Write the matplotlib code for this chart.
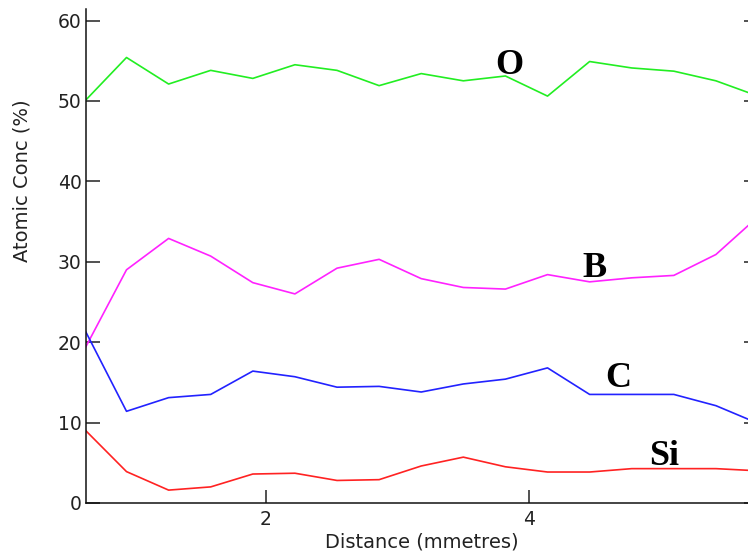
import matplotlib
matplotlib.use('Agg')
import matplotlib.pyplot as plt

# Dados
distance = [0.63, 0.94, 1.26, 1.58, 1.90, 2.22, 2.54, 2.86, 3.18,
            3.50, 3.82, 4.14, 4.46, 4.78, 5.10, 5.42, 5.74]

conc_o = [50.1, 55.4, 52.1, 53.8, 52.8, 54.5, 53.8, 51.9, 53.4,
          52.5, 53.1, 50.6, 54.9, 54.1, 53.7, 52.5, 50.6]
conc_b = [19.4, 29.0, 32.9, 30.7, 27.4, 26.0, 29.2, 30.3, 27.9,
          26.8, 26.6, 28.4, 27.5, 28.0, 28.3, 30.9, 35.6]
conc_c = [21.3, 11.4, 13.1, 13.5, 16.4, 15.7, 14.4, 14.5, 13.8,
          14.8, 15.4, 16.8, 13.5, 13.5, 13.5, 12.1, 9.9]
conc_si = [9.0, 3.9, 1.6, 2.0, 3.6, 3.7, 2.8, 2.9, 4.6,
           5.7, 4.5, 3.85, 3.85, 4.27, 4.27, 4.27, 4.0]

x_ticks = [2, 4]
y_ticks = [0, 10, 20, 30, 40, 50, 60]

# Figura
fig = plt.figure(figsize=(7.48, 5.54), dpi=100)
ax = fig.add_axes([0.1146, 0.0921, 0.8988, 0.8912])

ax.plot(distance, conc_o, color='#22ee22', lw=1.2)
ax.plot(distance, conc_b, color='#ff22ff', lw=1.2)
ax.plot(distance, conc_c, color='#2222ff', lw=1.2)
ax.plot(distance, conc_si, color='#ff2222', lw=1.2)

ax.set_xlim(distance[0], distance[-1])
ax.set_ylim(0, 61.4)
ax.set_xticks(x_ticks)
ax.set_yticks(y_ticks)
ax.set_xticklabels([str(t) for t in x_ticks])

ax.spines['top'].set_visible(False)
for side in ['left', 'bottom', 'right']:
    ax.spines[side].set_linewidth(1.1)
    ax.spines[side].set_color('#111111')

ax.tick_params(axis='y', direction='in', length=10, width=1.1, right=True,
               pad=3, labelsize=13.5, colors='#222222')
ax.tick_params(axis='x', direction='in', length=9.5, width=1.1, pad=5,
               labelsize=13.5, colors='#222222')

ax.set_xlabel('Distance (mmetres)', fontsize=14, color='#222222')
ax.xaxis.set_label_coords(0.5, -0.079)
ax.xaxis.label.set_va('center')

ax.set_ylabel('Atomic Conc (%)', fontsize=14, color='#222222')
ax.yaxis.set_label_coords(-0.0947, 0.652)
ax.yaxis.label.set_va('center')

# Rótulos dos elementos
label_font = dict(family='Liberation Serif', fontweight='bold', fontsize=26,
                  ha='center', va='baseline')
ax.text(3.85, 53.4, 'O', **label_font)
ax.text(4.50, 28.1, 'B', **label_font)
ax.text(4.68, 14.4, 'C', **label_font)
ax.text(5.03, 4.72, 'Si', **label_font)

plt.savefig('out.png', dpi=100)
